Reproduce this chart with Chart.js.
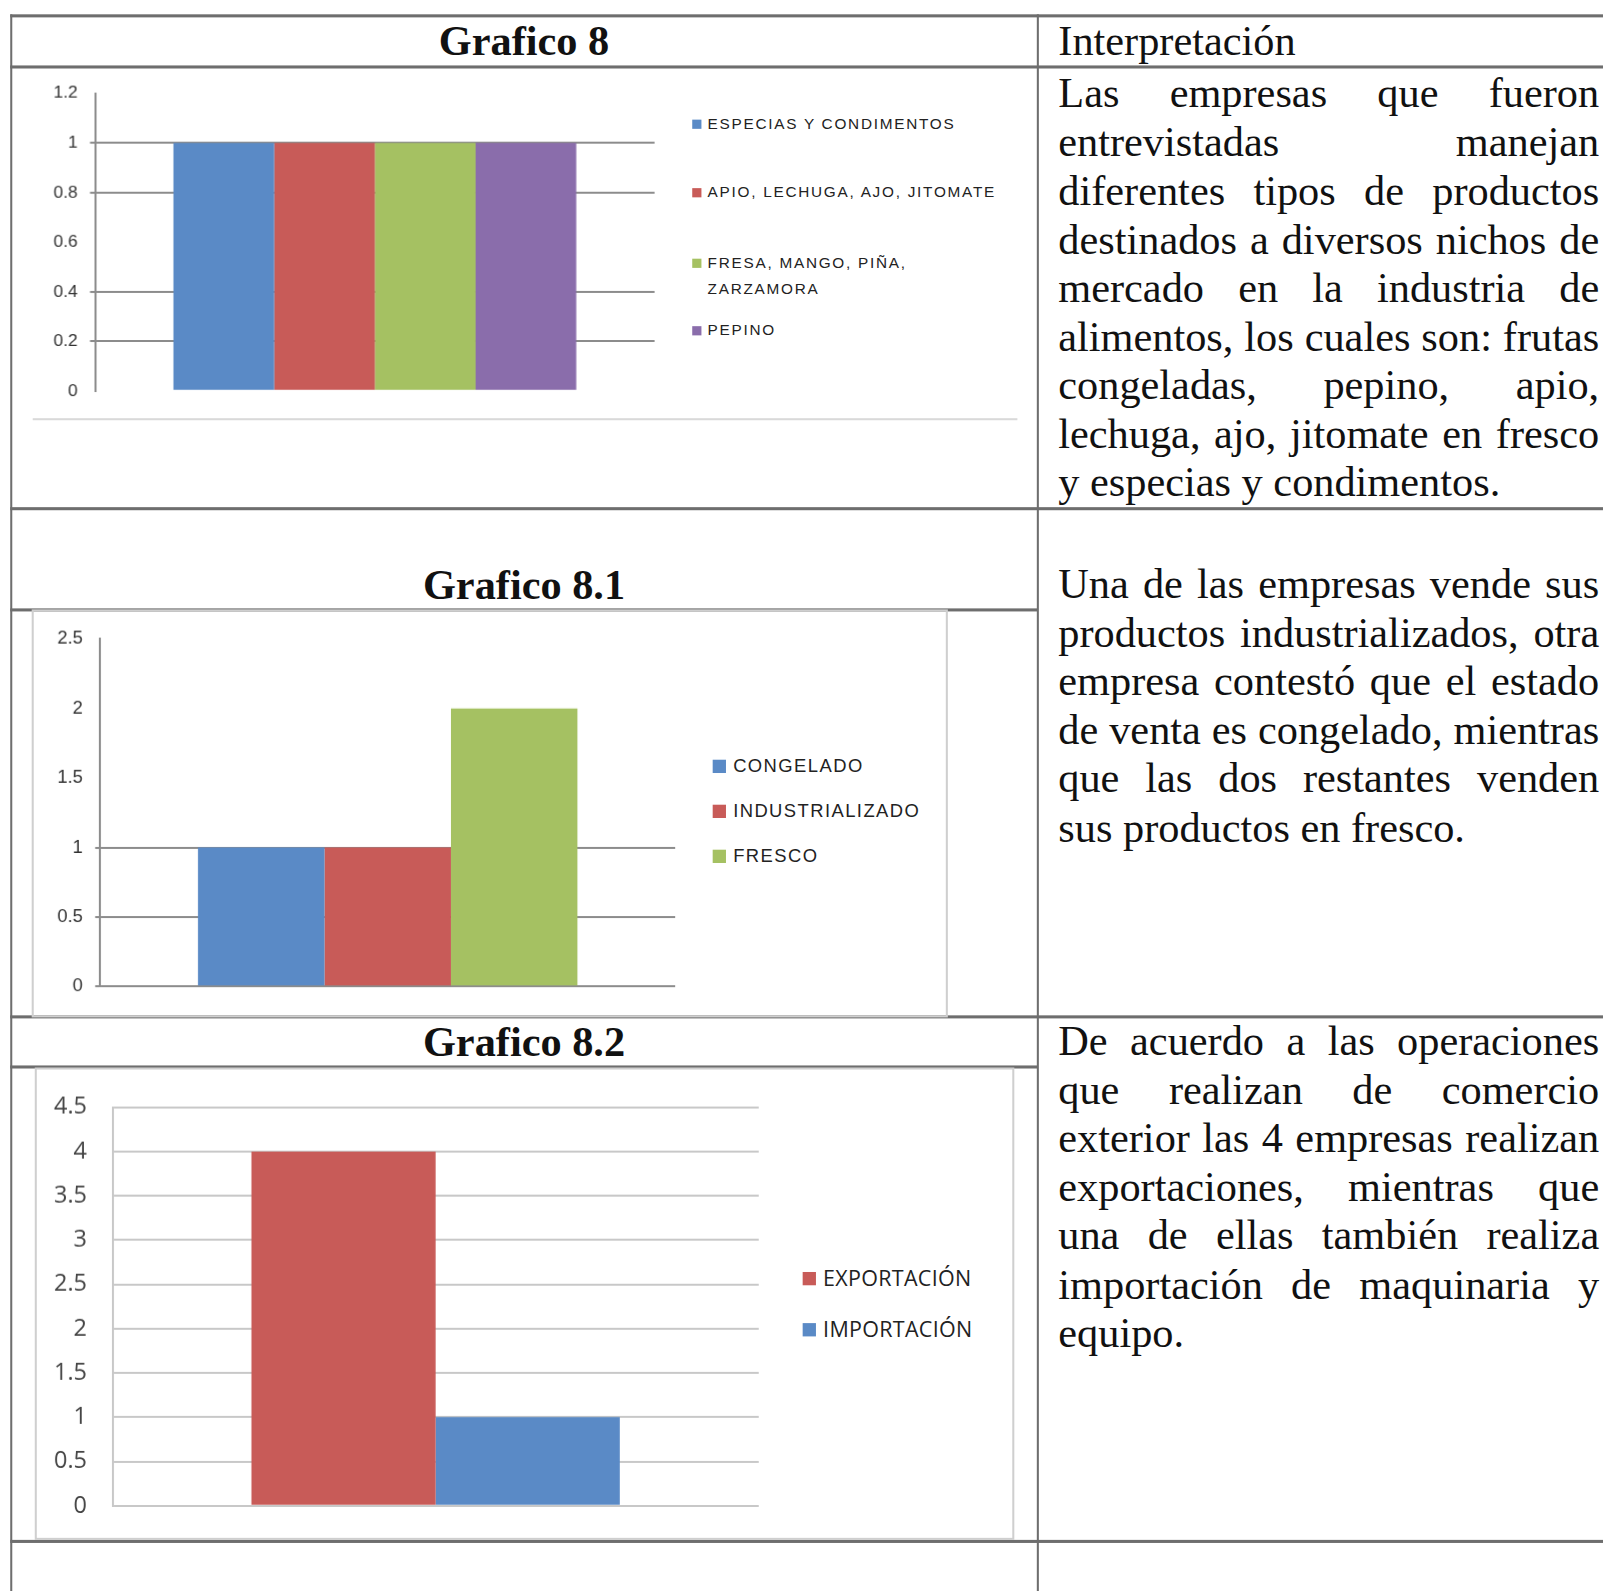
<!DOCTYPE html>
<html>
<head>
<meta charset="utf-8">
<script src="https://cdn.jsdelivr.net/npm/chart.js@4.4.1/dist/chart.umd.min.js"></script>
<style>
  html { overflow: hidden; }
  html, body { margin: 0; background: #fff; width: 1603px; height: 1591px; }
  /* layout was measured on a 0.978-scaled view of the page, so scale it back up */
  #page { position: relative; width: 1568px; height: 1556px; overflow: hidden; background: #fff;
          transform: scale(1.0225); transform-origin: 0 0; }
  .hl, .vl { position: absolute; background: #6e6e6e; }
  .hl { height: 3px; }
  .vl { width: 2px; }
  .title { position: absolute; left: 10px; width: 1005px; text-align: center; font: bold 41.4px/48px "Liberation Serif", serif; color: #111; }
  .head { position: absolute; left: 1035px; font: 41.4px/48px "Liberation Serif", serif; color: #111; }
  .txt { position: absolute; left: 1035px; width: 529px; font: 41.4px/47.5px "Liberation Serif", serif; color: #111; }
  .txt div { text-align: justify; text-align-last: justify; white-space: nowrap; }
  .txt div.last { text-align: left; text-align-last: left; }
  .frame { position: absolute; border: 2px solid #cfcfcf; box-sizing: border-box; }
  .box { position: absolute; }
  .legend { position: absolute; color: #222; }
  .legend .item { position: absolute; left: 0; display: flex; align-items: flex-start; white-space: pre; }
  .legend .sw { flex: none; }
</style>
</head>
<body>
<div id="page">
  <!-- table lines -->
  <div class="hl" style="left:10px; top:14px; width:1593px;"></div>
  <div class="hl" style="left:10px; top:64px; width:1593px;"></div>
  <div class="hl" style="left:10px; top:496px; width:1593px;"></div>
  <div class="hl" style="left:10px; top:595px; width:1005px;"></div>
  <div class="hl" style="left:10px; top:993px; width:1593px;"></div>
  <div class="hl" style="left:10px; top:1042px; width:1005px;"></div>
  <div class="hl" style="left:10px; top:1506px; width:1593px;"></div>
  <div class="vl" style="left:10px; top:14px; height:1577px;"></div>
  <div class="vl" style="left:1014px; top:14px; height:1577px;"></div>

  <!-- titles -->
  <div class="title" style="top:16px;">Grafico 8</div>
  <div class="head" style="top:16px;">Interpretación</div>
  <div class="title" style="top:548px;">Grafico 8.1</div>
  <div class="title" style="top:995px;">Grafico 8.2</div>

  <!-- interpretation text -->
  <div class="txt" style="top:68px;">
    <div>Las empresas que fueron</div>
    <div>entrevistadas manejan</div>
    <div>diferentes tipos de productos</div>
    <div>destinados a diversos nichos de</div>
    <div>mercado en la industria de</div>
    <div>alimentos, los cuales son: frutas</div>
    <div>congeladas, pepino, apio,</div>
    <div>lechuga, ajo, jitomate en fresco</div>
    <div class="last">y especias y condimentos.</div>
  </div>
  <div class="txt" style="top:548px;">
    <div>Una de las empresas vende sus</div>
    <div>productos industrializados, otra</div>
    <div>empresa contestó que el estado</div>
    <div>de venta es congelado, mientras</div>
    <div>que las dos restantes venden</div>
    <div class="last">sus productos en fresco.</div>
  </div>
  <div class="txt" style="top:995px;">
    <div>De acuerdo a las operaciones</div>
    <div>que realizan de comercio</div>
    <div>exterior las 4 empresas realizan</div>
    <div>exportaciones, mientras que</div>
    <div>una de ellas también realiza</div>
    <div>importación de maquinaria y</div>
    <div class="last">equipo.</div>
  </div>

  <!-- chart frames -->
  <div class="hl" style="left:32px; top:409px; width:963px; height:2px; background:#d9d9d9;"></div>
  <div class="frame" style="left:31px; top:596px; width:896px; height:399px;"></div>
  <div class="frame" style="left:34px; top:1044px; width:958px; height:462px;"></div>

  <!-- charts -->
  <div class="box" style="left:20px; top:69px; width:630px; height:335px;"><canvas id="g8"></canvas></div>
  <div class="legend" id="g8legend" style="left:677px; top:0;"></div>

  <div class="box" style="left:35px; top:602px; width:635px; height:385px;"><canvas id="g81"></canvas></div>
  <div class="legend" id="g81legend" style="left:697px; top:0;"></div>

  <div class="box" style="left:40px; top:1044px; width:710px; height:467px;"><canvas id="g82"></canvas></div>
  <div class="legend" id="g82legend" style="left:785px; top:0;"></div>
</div>

<script>
// ===================== Data =====================
const g8Labels = ["ESPECIAS Y CONDIMENTOS", "APIO, LECHUGA, AJO, JITOMATE", "FRESA, MANGO, PIÑA,\nZARZAMORA", "PEPINO"];
const g8Values = [1, 1, 1, 1];
const g8Colors = ["#5a8ac6", "#c85b58", "#a5c162", "#8a6dab"];
const g8Max = 1.2, g8Step = 0.2;

const g81Labels = ["CONGELADO", "INDUSTRIALIZADO", "FRESCO"];
const g81Values = [1, 1, 2];
const g81Colors = ["#5a8ac6", "#c85b58", "#a5c162"];
const g81Max = 2.5, g81Step = 0.5;

const g82Labels = ["EXPORTACIÓN", "IMPORTACIÓN"];
const g82Values = [4, 1];
const g82Colors = ["#c85b58", "#5a8ac6"];
const g82Max = 4.5, g82Step = 0.5;

const PAGE_SCALE = 1.0225;

// ===================== Chart builder =====================
function makeChart(id, labels, values, colors, o) {
  const ctx = document.getElementById(id).getContext("2d");
  return new Chart(ctx, {
    type: "bar",
    data: {
      labels: [""],
      datasets: labels.map((l, i) => ({
        label: l,
        data: [values[i]],
        backgroundColor: colors[i],
        borderWidth: 0,
        categoryPercentage: o.cat,
        barPercentage: 1
      }))
    },
    options: {
      responsive: true,
      maintainAspectRatio: false,
      animation: false,
      devicePixelRatio: PAGE_SCALE,
      layout: { padding: o.pad },
      plugins: { legend: { display: false }, tooltip: { enabled: false } },
      scales: {
        x: { display: false },
        y: {
          min: 0,
          max: o.max,
          afterFit: (s) => { s.width = o.axisW; },
          ticks: {
            stepSize: o.step,
            padding: o.tickPad,
            color: o.tickColor,
            font: { family: o.font, size: o.tickSize },
            callback: (v) => String(+v.toFixed(1))
          },
          grid: {
            lineWidth: 2,
            drawTicks: o.tickLen > 0,
            tickLength: o.tickLen,
            color: (c) => {
              const v = c.tick ? c.tick.value : null;
              if (v !== null && o.hide.some((h) => Math.abs(h - v) < 1e-6)) return "rgba(0,0,0,0)";
              return o.gridColor;
            }
          },
          border: { color: o.gridColor, width: 2 }
        }
      }
    }
  });
}

// ===================== Legend builder =====================
function makeLegend(id, labels, colors, tops, size, sw, gap, lh, spacing, family) {
  const el = document.getElementById(id);
  labels.forEach((l, i) => {
    const item = document.createElement("div");
    item.className = "item";
    item.style.top = tops[i] + "px";
    item.style.font = size + "px " + family;
    item.style.lineHeight = lh + "px";
    item.style.letterSpacing = spacing + "px";
    const box = document.createElement("span");
    box.className = "sw";
    box.style.width = sw + "px";
    box.style.height = sw + "px";
    box.style.marginTop = ((lh - sw) / 2) + "px";
    box.style.marginRight = gap + "px";
    box.style.background = colors[i];
    const t = document.createElement("span");
    t.textContent = l;
    item.appendChild(box);
    item.appendChild(t);
    el.appendChild(item);
  });
}

// ===================== Draw =====================
makeChart("g8", g8Labels, g8Values, g8Colors, {
  cat: 0.72, max: g8Max, step: g8Step, axisW: 73,
  pad: { top: 14, bottom: 14, right: 10, left: 0 },
  tickPad: 12, tickLen: 5, tickColor: "#333", tickSize: 17, font: "'Liberation Sans', Arial",
  gridColor: "#8c8c8c", hide: [0, 0.6, 1.2]
});
makeLegend("g8legend", g8Labels, g8Colors, [108, 175, 244, 310], 15, 9, 6, 26, 1.7, "'Liberation Sans', Arial, sans-serif");

makeChart("g81", g81Labels, g81Values, g81Colors, {
  cat: 0.66, max: g81Max, step: g81Step, axisW: 63,
  pad: { top: 14, bottom: 14, right: 10, left: 0 },
  tickPad: 12, tickLen: 5, tickColor: "#333", tickSize: 18, font: "'Liberation Sans', Arial",
  gridColor: "#8c8c8c", hide: [1.5, 2, 2.5]
});
makeLegend("g81legend", g81Labels, g81Colors, [736, 780, 824], 18, 13, 7, 26, 1.4, "'Liberation Sans', Arial, sans-serif");

makeChart("g82", g82Labels, g82Values, g82Colors, {
  cat: 0.57, max: g82Max, step: g82Step, axisW: 70,
  pad: { top: 16, bottom: 16, right: 8, left: 0 },
  tickPad: 25, tickLen: 0, tickColor: "#444", tickSize: 23, font: "'Open Sans', Arial",
  gridColor: "#c8c8c8", hide: []
});
makeLegend("g82legend", g82Labels, g82Colors, [1235, 1285], 21, 13, 7, 30, 0.3, "'Open Sans', Arial, sans-serif");
</script>
</body>
</html>
